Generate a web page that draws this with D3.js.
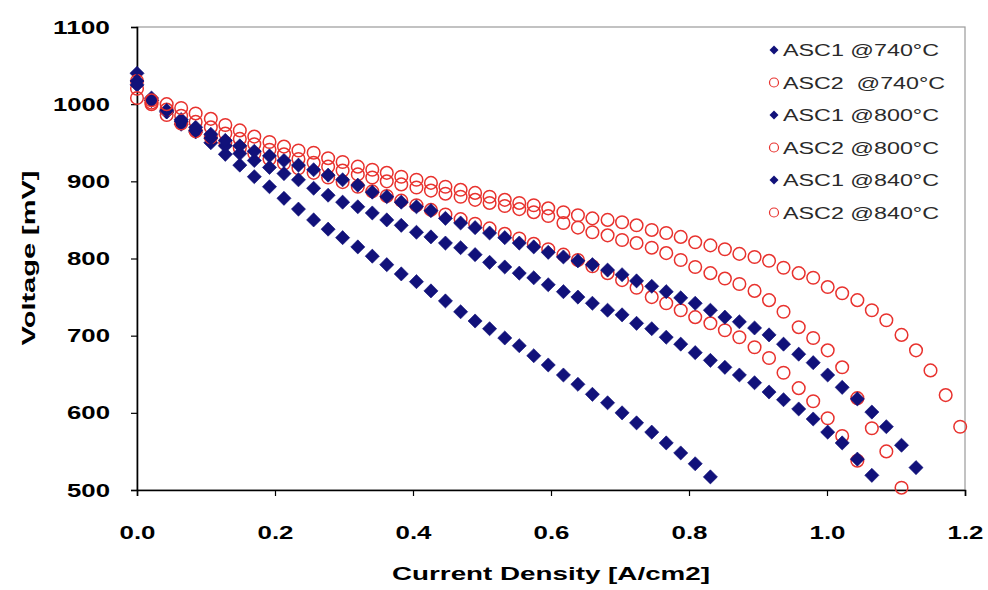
<!DOCTYPE html>
<html>
<head>
<meta charset="utf-8">
<script src="https://cdn.jsdelivr.net/npm/d3@7"></script>
<style>
  body { margin: 0; background: #fff; }
  text { font-family: "Liberation Sans", Arial, sans-serif; }
</style>
</head>
<body>
<svg id="chart" width="988" height="590"></svg>
<script>
// Current density steps shared by all polarisation curves [A/cm2]
const currentDensity = [0, 0.021, 0.043, 0.064, 0.085, 0.107, 0.128, 0.149, 0.170, 0.192,
  0.213, 0.234, 0.256, 0.277, 0.298, 0.320, 0.341, 0.362, 0.383, 0.405,
  0.426, 0.447, 0.469, 0.490, 0.511, 0.533, 0.554, 0.575, 0.596, 0.618,
  0.639, 0.660, 0.682, 0.703, 0.724, 0.746, 0.767, 0.788, 0.809, 0.831,
  0.852, 0.873, 0.895, 0.916, 0.937, 0.959, 0.980, 1.001, 1.022, 1.044,
  1.065, 1.086, 1.108, 1.129, 1.150, 1.172, 1.193];

// Cell voltage [mV] for each cell and temperature
const asc1_740 = [1040, 1008, 990, 974, 964, 950, 935, 921, 906, 893, 878, 864, 850, 838, 827, 815, 803, 792, 780, 770,
  758, 745, 731, 719, 709, 697, 687, 674, 662, 649, 637, 624, 613, 600, 587, 575, 561, 548, 534, 517];
const asc2_740 = [1030, 1000, 986, 975, 965, 957, 950, 943, 936, 929, 923, 917, 911, 905, 899, 893, 887, 881, 875, 869,
  863, 857, 851, 845, 839, 832, 826, 819, 812, 805, 798, 790, 781, 772, 762, 750, 742, 733, 724, 716,
  707, 698, 685, 671, 652, 632, 615, 593, 570, 538];
const asc1_800 = [1030, 1005, 990, 978, 966, 956, 946, 936, 927, 918, 910, 902, 891, 882, 873, 867, 859, 850, 843, 834,
  828, 820, 814, 805, 795, 789, 781, 775, 766, 757, 750, 742, 733, 727, 716, 709, 698, 689, 678, 668,
  659, 649, 639, 627, 617, 605, 592, 575, 561, 540, 519];
const asc2_800 = [1020, 1002, 993, 985, 977, 970, 962, 955, 948, 941, 935, 929, 924, 919, 914, 909, 905, 900, 896, 892,
  888, 884, 880, 876, 872, 868, 864, 860, 855, 846, 840, 834, 830, 824, 820, 814, 807, 798, 789, 781,
  774, 767, 758, 746, 731, 711, 697, 681, 659, 619, 580, 550, 503];
const asc1_840 = [1025, 1005, 992, 980, 970, 961, 953, 946, 939, 933, 927, 921, 915, 908, 902, 895, 886, 880, 873, 867,
  862, 852, 846, 840, 833, 827, 820, 815, 808, 802, 797, 792, 785, 779, 771, 764, 757, 749, 742, 733,
  724, 718, 710, 701, 689, 676, 665, 649, 633, 618, 601, 582, 558, 529];
const asc2_840 = [1008, 1005, 1000, 995, 988, 981, 973, 966, 958, 951, 945, 940, 937, 930, 925, 919, 915, 911, 906, 902,
  898, 893, 889, 885, 880, 876, 872, 869, 865, 860, 856, 852, 850, 847, 843, 837, 833, 828, 821, 817,
  812, 806, 802, 797, 788, 781, 775, 763, 755, 746, 733, 720, 701, 681, 655, 623, 582];

const seriesLabels = ["ASC1 @740°C", "ASC2  @740°C", "ASC1 @800°C", "ASC2 @800°C", "ASC1 @840°C", "ASC2 @840°C"];
const seriesValues = [asc1_740, asc2_740, asc1_800, asc2_800, asc1_840, asc2_840];
const seriesKind = ["diamond", "circle", "diamond", "circle", "diamond", "circle"];

const xTicks = [0, 0.2, 0.4, 0.6, 0.8, 1.0, 1.2];
const yTicks = [500, 600, 700, 800, 900, 1000, 1100];

const BLUE = "#11117a";
const RED = "#e8322e";

const svg = d3.select("#chart");
const x = d3.scaleLinear().domain([0, 1.2]).range([137, 965]);
const y = d3.scaleLinear().domain([500, 1100]).range([490, 27]);

// plot area frame (top and right edges)
svg.append("rect")
  .attr("x", x(0)).attr("y", y(1100))
  .attr("width", x(1.2) - x(0)).attr("height", y(500) - y(1100))
  .attr("fill", "none").attr("stroke", "#9a9a9a").attr("stroke-width", 1.2);

// axes
const yAxis = svg.append("g")
  .attr("transform", `translate(${x(0)},0)`)
  .call(d3.axisLeft(y).tickValues(yTicks).tickSize(6).tickPadding(21).tickFormat(d3.format("d")));
const xAxis = svg.append("g")
  .attr("transform", `translate(0,${y(500)})`)
  .call(d3.axisBottom(x).tickValues(xTicks).tickSize(6).tickPadding(30).tickFormat(d3.format(".1f")));

[yAxis, xAxis].forEach(g => {
  g.select(".domain").attr("stroke", "#000").attr("stroke-width", 1.6);
  g.selectAll(".tick line").attr("stroke", "#000").attr("stroke-width", 1.2);
  g.selectAll(".tick text")
    .attr("fill", "#000")
    .style("font-family", "'Liberation Sans', Arial, sans-serif")
    .style("font-size", "19px")
    .style("font-weight", "bold");
});
yAxis.selectAll(".tick text")
  .attr("textLength", d => d >= 1000 ? 57 : 43)
  .attr("lengthAdjust", "spacingAndGlyphs");
xAxis.selectAll(".tick text")
  .attr("textLength", 36)
  .attr("lengthAdjust", "spacingAndGlyphs");

// axis titles
svg.append("text")
  .attr("x", (x(0) + x(1.2)) / 2).attr("y", 580)
  .attr("text-anchor", "middle")
  .attr("font-size", 19).attr("font-weight", "bold")
  .attr("textLength", 318).attr("lengthAdjust", "spacingAndGlyphs")
  .text("Current Density [A/cm2]");
svg.append("text")
  .attr("transform", "translate(35,258) rotate(-90)")
  .attr("text-anchor", "middle")
  .attr("font-size", 19).attr("font-weight", "bold")
  .attr("textLength", 175).attr("lengthAdjust", "spacingAndGlyphs")
  .text("Voltage [mV]");

// markers
const diamond = d3.symbol().type(d3.symbolSquare).size(100);
function drawMarker(sel, kind) {
  if (kind === "diamond") {
    sel.append("path").attr("d", diamond()).attr("transform", "rotate(45)")
      .attr("fill", BLUE).attr("stroke", BLUE).attr("stroke-width", 0.6);
  } else {
    sel.append("circle").attr("r", 6.3)
      .attr("fill", "none").attr("stroke", RED).attr("stroke-width", 1.5);
  }
}

seriesValues.forEach((vals, i) => {
  const pts = vals.map((v, k) => ({ j: currentDensity[k], v }));
  svg.append("g").selectAll("g")
    .data(pts).join("g")
    .attr("transform", d => `translate(${x(d.j)},${y(d.v)})`)
    .each(function () { drawMarker(d3.select(this), seriesKind[i]); });
});

// legend
const legend = svg.append("g");
seriesLabels.forEach((lab, i) => {
  const rowY = 50 + i * 32.5;
  const m = legend.append("g").attr("transform", `translate(774,${rowY})`);
  if (seriesKind[i] === "diamond") {
    m.append("path").attr("d", d3.symbol().type(d3.symbolSquare).size(40)()).attr("transform", "rotate(45)")
      .attr("fill", BLUE);
  } else {
    m.append("circle").attr("r", 4.5).attr("fill", "none").attr("stroke", RED).attr("stroke-width", 1.2);
  }
  legend.append("text")
    .attr("x", 783).attr("y", rowY + 6)
    .attr("font-size", 16).attr("fill", "#2a2a2a")
    .attr("xml:space", "preserve").style("white-space", "pre")
    .attr("textLength", i === 1 ? 162 : 156).attr("lengthAdjust", "spacingAndGlyphs")
    .text(lab);
});
</script>
</body>
</html>
